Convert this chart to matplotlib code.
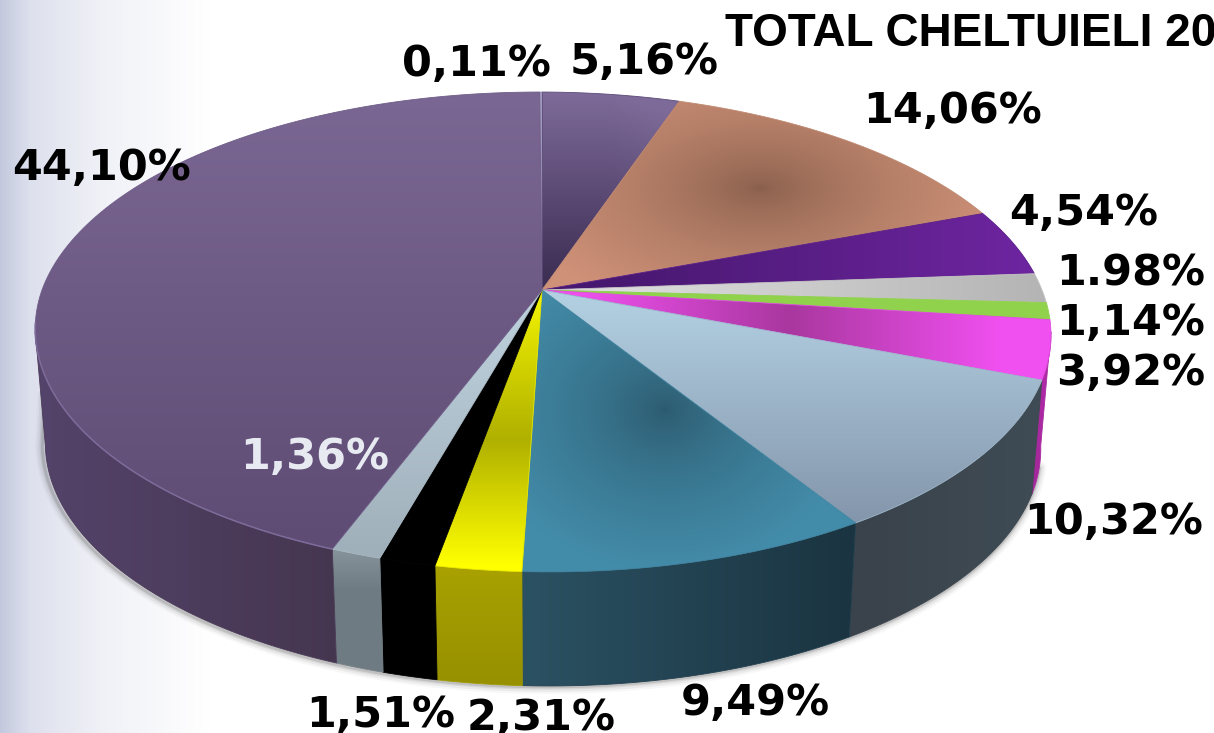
import numpy as np
import matplotlib
matplotlib.use('Agg')
import matplotlib.pyplot as plt
from matplotlib.colors import to_rgb
from matplotlib.patches import Polygon


# Valorile graficului, in sensul acelor de ceasornic, de sus
valori = [0.11, 5.16, 14.06, 4.54, 1.98, 1.14, 3.92, 10.32, 9.49, 2.31, 1.51, 1.36, 44.10]
etichete = ['0,11%', '5,16%', '14,06%', '4,54%', '1.98%', '1,14%', '3,92%',
            '10,32%', '9,49%', '2,31%', '1,51%', '1,36%', '44,10%']
titlu = 'TOTAL CHELTUIELI 20'

W, H = 1214, 733
CX, CY = 542, 290
A, B, K = 500, 232.6, 0.175
FORFECARE_SUS, FORFECARE_JOS = 0.012, 0.026
ADANCIME = 114
SCARA_JOS = 0.98

X, Y = np.meshgrid(np.arange(W) + 0.5, np.arange(H) + 0.5)


def proiectie(t):
    # cercul placintei trecut prin perspectiva
    d = 1 + K * np.sin(t)
    y = CY - B * np.sin(t) / d
    forfecare = np.where(y < CY, FORFECARE_SUS, FORFECARE_JOS)
    return CX + A * np.cos(t) / d + forfecare * (y - CY), y


def mix(f, c0, c1):
    f = np.clip(f, 0, 1)[..., None]
    return np.array(to_rgb(c0)) * (1 - f) + np.array(to_rgb(c1)) * f


def vert(y0, c0, y1, c1):
    return mix((Y - y0) / (y1 - y0), c0, c1)


def oriz(x0, c0, x1, c1):
    return mix((X - x0) / (x1 - x0), c0, c1)


def pata(x0, y0, rx, ry, centru, baza):
    # umbra rotunda din mijlocul feliilor
    r = np.sqrt(((X - x0) / rx) ** 2 + ((Y - y0) / ry) ** 2)
    return mix(r ** 0.7, centru, baza)


def trei(v, p0, c0, p1, c1, p2, c2):
    return np.where((v < p1)[..., None],
                    mix((v - p0) / (p1 - p0), c0, c1),
                    mix((v - p1) / (p2 - p1), c1, c2))


def desen(camp, pts, ax, z, muchie):
    pol = Polygon(pts, closed=True, transform=ax.transData, fc='none', ec='none')
    ax.add_patch(pol)
    im = ax.imshow(camp, extent=(0, W, H, 0), origin='upper', zorder=z,
                   interpolation='bilinear', aspect='auto')
    im.set_clip_path(pol)
    ax.add_patch(Polygon(pts, closed=True, fc='none', ec=muchie, lw=0.6, zorder=z + 0.001))


# Culorile feliilor (sus) si ale peretilor laterali
sus = [
    vert(92, '#a49cc0', 290, '#9088aa'),
    mix(np.clip((Y - 95) / 185, 0, 1) - np.clip((X - 610) / 200, 0, 1) * 0.35, '#7d6a98', '#3d2e54'),
    pata(760, 188, 250, 130, '#885f4c', '#cf9178'),
    oriz(600, '#47186f', 1030, '#6e25a0'),
    oriz(620, '#dcdcdc', 1048, '#b4b4b4'),
    oriz(600, '#8fd24c', 1050, '#92d24e'),
    trei(X, 580, '#ee50ee', 790, '#a9379f', 1000, '#f050f0'),
    vert(300, '#b2cfe2', 520, '#8496ab'),
    pata(665, 410, 190, 160, '#2c5a6e', '#438ca9'),
    trei(Y, 300, '#f0f000', 440, '#b0b000', 565, '#ffff00'),
    vert(0, '#000000', 700, '#000000'),
    vert(310, '#bcd0dc', 550, '#a0b0bb'),
    vert(92, '#7b6793', 545, '#5e4c74'),
]
perete = [
    vert(0, '#4a3a5e', 700, '#4a3a5e'),
    vert(0, '#4a3a5e', 700, '#4a3a5e'),
    vert(0, '#8a5f4c', 700, '#8a5f4c'),
    vert(0, '#4a1a70', 700, '#4a1a70'),
    vert(0, '#8c8c8c', 700, '#8c8c8c'),
    vert(0, '#5f8f30', 700, '#5f8f30'),
    vert(370, '#b02aa8', 500, '#a02898'),
    oriz(850, '#3a424b', 1045, '#3f4c55'),
    oriz(520, '#2b5263', 850, '#1b3441'),
    vert(570, '#a8a100', 685, '#979000'),
    vert(0, '#000000', 700, '#000000'),
    vert(550, '#87939b', 590, '#6f7b83'),
    oriz(40, '#54436a', 335, '#453650'),
]
muchii_sus = ['#9a90b5', '#5a4a78', '#c08a72', '#5a1f88', '#c4c4c4', '#90d14d', '#e04ce0',
              '#9db5c9', '#3f839f', '#e8e800', '#000000', '#a9bac5', '#6e5c87']
muchii_perete = ['#4a3a5e', '#4a3a5e', '#8a5f4c', '#4a1a70', '#8c8c8c', '#5f8f30', '#a82aa0',
                 '#3c464e', '#223f4e', '#a09a00', '#000000', '#747f87', '#4a3b57']
culori_text = ['black'] * 11 + ['#e8eaf2', 'black']

# pozitiile etichetelor
pozitii_text = [(476, 64), (644, 62), (953, 111), (1084, 213), (1131, 274), (1131, 323), (1131, 373),
                (1114, 522), (755, 703), (541, 718), (381, 715), (315, 457), (102, 168)]

fig = plt.figure(figsize=(W / 100, H / 100), dpi=100)
ax = fig.add_axes([0, 0, 1, 1])
ax.set_xlim(0, W)
ax.set_ylim(H, 0)
ax.axis('off')

# Fundal: alb cu o banda albastruie la stanga
xb = [0, 30, 100, 210]
cb = np.array([to_rgb(c) for c in ['#c3c8dd', '#dde0ed', '#f0f1f7', '#ffffff']])
fundal = np.stack([np.interp(X, xb, cb[:, k]) for k in range(3)], axis=-1)
ax.imshow(fundal, extent=(0, W, H, 0), origin='upper', zorder=0, aspect='auto')

# Unghiurile din valori
cumul = np.concatenate([[0], np.cumsum(valori)]) / np.sum(valori)
unghi = np.pi / 2 - 2 * np.pi * cumul

# Umbra moale sub placinta, urca putin pe peretele din stanga
tu = np.linspace(np.radians(-15), np.radians(-170), 300)
xu, yu = proiectie(tu)
xu = CX + (xu - CX) * SCARA_JOS
xu = np.r_[xu - 3 * (xu < CX), xu[-1] - 1]
yu = np.r_[yu + ADANCIME + 1, yu[-1] + ADANCIME - 50]
for lw, a in zip([10, 7, 4, 2], [0.04, 0.07, 0.10, 0.16]):
    ax.plot(xu, yu, color='#404040', lw=lw, alpha=a, zorder=1, solid_capstyle='round')

# Peretii: doar arcul din fata, intre punctele extreme ale elipsei
T_DR, T_ST = np.radians(-10), np.radians(-170)
for i in range(len(valori)):
    t1 = min(unghi[i], T_DR)
    t2 = max(unghi[i + 1], T_ST)
    if t1 <= t2:
        continue
    t = np.linspace(t1, t2, max(int(valori[i] * 6), 6))
    xs, ys = proiectie(t)
    xj = CX + (xs - CX) * SCARA_JOS
    yj = ys + ADANCIME
    pts = np.column_stack([np.r_[xs, xj[::-1]], np.r_[ys, yj[::-1]]])
    desen(perete[i], pts, ax, 2 + 0.01 * i, muchii_perete[i])

# Fetele de sus
for i in range(len(valori)):
    t = np.linspace(unghi[i], unghi[i + 1], max(int(valori[i] * 6), 6))
    xs, ys = proiectie(t)
    pts = np.column_stack([np.r_[CX, xs], np.r_[CY, ys]])
    desen(sus[i], pts, ax, 3 + 0.01 * i, muchii_sus[i])

# Lumina fina pe marginea din fata a feliei mari
t = np.linspace(unghi[-2], np.radians(-172), 120)
xs, ys = proiectie(t)
ax.plot(xs, ys, color='#7d6b9a', lw=1.1, zorder=4)

# Etichete si titlu
for txt, (x, y), c in zip(etichete, pozitii_text, culori_text):
    ax.text(x, y, txt, fontsize=31, fontweight='bold', family='DejaVu Sans', color=c,
            ha='center', va='center', zorder=6)
ax.text(725, 46, titlu, fontsize=33, fontweight='bold', family='Liberation Sans',
        color='black', ha='left', va='baseline', zorder=6)

ax.set_xlim(0, W)
ax.set_ylim(H, 0)
fig.savefig('out.png', dpi=100)
